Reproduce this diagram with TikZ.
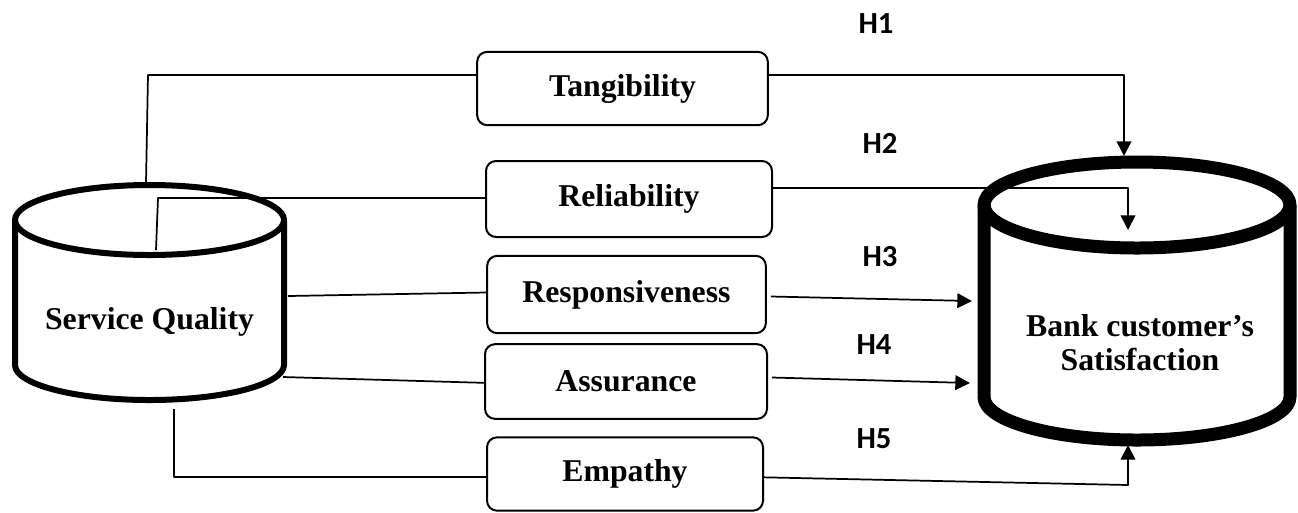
\documentclass[tikz,border=0pt]{standalone}
\usepackage{fontspec}
\setmainfont{Liberation Serif}
\newfontfamily\hfont{Carlito}
\usetikzlibrary{arrows.meta}

\begin{document}
\begin{tikzpicture}[x=0.75pt,y=-0.75pt,line join=round]
  \tikzstyle{dim}=[draw,line width=1.5pt,rounded corners=7.5pt,inner sep=0pt,font=\fontsize{23.8}{25.5}\selectfont\bfseries]
  \tikzstyle{big}=[align=center,font=\fontsize{23.8}{25.5}\selectfont\bfseries]
  \tikzstyle{link}=[line width=1.3pt]
  \tikzstyle{hyp}=[link,-{Triangle[length=11pt,width=11pt]}]
  \tikzstyle{hlab}=[font=\hfont\fontsize{23}{26}\selectfont\bfseries]
  \useasboundingbox (0,0) rectangle (1298,512);
  % the two cylinders
  \draw[line width=4.5pt] (149.5,220) ellipse [x radius=134.5,y radius=35];
  \draw[line width=4.5pt] (15,220) -- (15,365) arc[start angle=180,end angle=0,x radius=134.5,y radius=35] -- (284,220);
  \draw[line width=9.75pt] (1137,205) ellipse [x radius=153,y radius=43];
  \draw[line width=9.75pt] (984,205) -- (984,397) arc[start angle=180,end angle=0,x radius=153,y radius=43] -- (1290,205);
  \node[big] (sq) at (149.5,322) {Service Quality};
  \node[big] (bcs) at (1140,343) {Bank customer’s\\Satisfaction};
  % dimensions
  \node[dim,minimum width=218pt,minimum height=55pt] (tan) at (622.5,88.5) {Tangibility};
  \node[dim,minimum width=214.5pt,minimum height=57pt] (rel) at (629,199) {Reliability};
  \node[dim,minimum width=209pt,minimum height=58pt] (res) at (626.5,294.5) {Responsiveness};
  \node[dim,minimum width=211.5pt,minimum height=56pt] (asr) at (626,381.5) {Assurance};
  \node[dim,minimum width=207pt,minimum height=55pt] (emp) at (625,474) {Empathy};
  % hypotheses
  \node[hlab] (h1) at (876,24) {H1};
  \node[hlab] (h2) at (880,143) {H2};
  \node[hlab] (h3) at (880,257) {H3};
  \node[hlab] (h4) at (874,345) {H4};
  \node[hlab] (h5) at (874,439) {H5};
  % bend points
  \coordinate (a1) at (146,183);
  \coordinate (a2) at (148,75);
  \coordinate (a3) at (1124,75);
  \coordinate (a4) at (1124,156);
  \coordinate (b1) at (156,250);
  \coordinate (b2) at (158,198);
  \coordinate (b3) at (1128,188);
  \coordinate (b4) at (1128,230);
  \coordinate (c1) at (288,296);
  \coordinate (c2) at (972,301);
  \coordinate (d1) at (283,377);
  \coordinate (d2) at (970,383);
  \coordinate (e1) at (174,409);
  \coordinate (e2) at (174,477);
  \coordinate (e3) at (1128,485);
  \coordinate (e4) at (1128,445);
  % links
  \draw[link] (a1) -- (a2) -- (a2 -| tan.west);
  \draw[hyp] (a3 -| tan.east) -- (a3) -- (a4);
  \draw[link] (b1) -- (b2) -- (b2 -| rel.west);
  \draw[hyp] (b3 -| rel.east) -- (b3) -- (b4);
  \draw[link] (c1) -- ([yshift=1.5pt]res.west);
  \draw[hyp] ([xshift=3pt,yshift=-1.5pt]res.east) -- (c2);
  \draw[link] (d1) -- ([yshift=-1pt]asr.west);
  \draw[hyp] ([xshift=3pt,yshift=3pt]asr.east) -- (d2);
  \draw[link] (e1) -- (e2) -- (e2 -| emp.west);
  \draw[hyp] ([yshift=-2.5pt]emp.east) -- (e3) -- (e4);
\end{tikzpicture}
\end{document}
